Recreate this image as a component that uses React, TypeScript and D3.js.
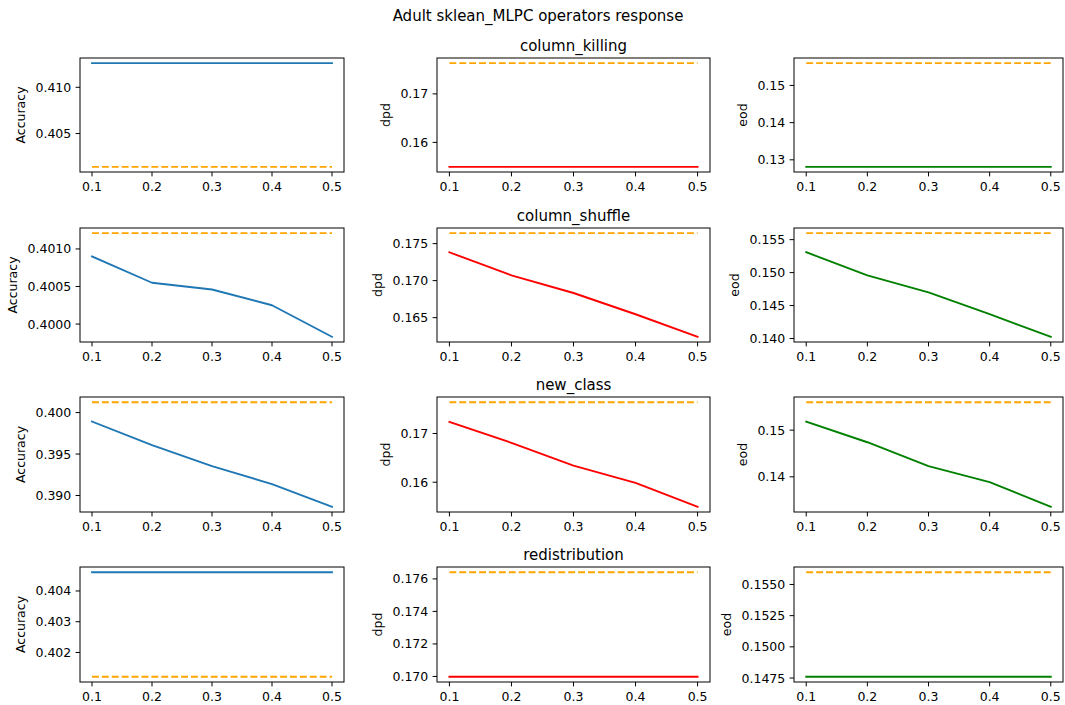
import * as d3 from "d3";

// x axis: corruption ratio
const xValues = [0.1, 0.2, 0.3, 0.4, 0.5];
const xTickLabels = ["0.1", "0.2", "0.3", "0.4", "0.5"];

const operators = ["column_killing", "column_shuffle", "new_class", "redistribution"];
const metrics = ["Accuracy", "dpd", "eod"];

// Accuracy per operator
const accuracyKilling = [0.41261, 0.41261, 0.41261, 0.41261, 0.41261];
const accuracyShuffle = [0.4009, 0.40055, 0.40046, 0.40025, 0.39983];
const accuracyNewClass = [0.39892, 0.39608, 0.39355, 0.39137, 0.38864];
const accuracyRedistribution = [0.40461, 0.40461, 0.40461, 0.40461, 0.40461];

// dpd per operator
const dpdKilling = [0.15496, 0.15496, 0.15496, 0.15496, 0.15496];
const dpdShuffle = [0.17383, 0.17071, 0.16833, 0.16546, 0.16241];
const dpdNewClass = [0.17237, 0.16808, 0.16339, 0.15985, 0.15496];
const dpdRedistribution = [0.16998, 0.16998, 0.16998, 0.16998, 0.16998];

// eod per operator
const eodKilling = [0.12812, 0.12812, 0.12812, 0.12812, 0.12812];
const eodShuffle = [0.15309, 0.14959, 0.14701, 0.14371, 0.14026];
const eodNewClass = [0.15181, 0.14741, 0.14231, 0.13886, 0.13359];
const eodRedistribution = [0.1476, 0.1476, 0.1476, 0.1476, 0.1476];

// original (unmodified) model values, one per operator row
const originalAccuracy = [0.4014, 0.40121, 0.40125, 0.40121];
const originalDpd = [0.17633, 0.17641, 0.17641, 0.17641];
const originalEod = [0.15598, 0.15598, 0.15598, 0.15598];

// y tick labels per operator row
const accuracyTicks = [
  ["0.405", "0.410"],
  ["0.4000", "0.4005", "0.4010"],
  ["0.390", "0.395", "0.400"],
  ["0.402", "0.403", "0.404"],
];
const dpdTicks = [
  ["0.16", "0.17"],
  ["0.165", "0.170", "0.175"],
  ["0.16", "0.17"],
  ["0.170", "0.172", "0.174", "0.176"],
];
const eodTicks = [
  ["0.13", "0.14", "0.15"],
  ["0.140", "0.145", "0.150", "0.155"],
  ["0.14", "0.15"],
  ["0.1475", "0.1500", "0.1525", "0.1550"],
];

const seriesByMetric = [
  [accuracyKilling, accuracyShuffle, accuracyNewClass, accuracyRedistribution],
  [dpdKilling, dpdShuffle, dpdNewClass, dpdRedistribution],
  [eodKilling, eodShuffle, eodNewClass, eodRedistribution],
];
const originalByMetric = [originalAccuracy, originalDpd, originalEod];
const ticksByMetric = [accuracyTicks, dpdTicks, eodTicks];
const colors = ["#1f77b4", "red", "green"];

// layout
const W = 1065;
const H = 705;
const colLeft = [80, 437, 794];
const colRight = [344, 710, 1063];
const rowTop = [58, 228, 397, 567];
const rowBottom = [172, 342, 512, 682];
const FONT = "DejaVu Sans, sans-serif";
const tickFs = 12.5;
const titleFs = 15;

function textWidth(s: string) {
  let w = 0;
  for (const c of s) w += c === "." ? 0.318 : 0.636;
  return w * tickFs;
}

function withMargin(ext: [number, number]): [number, number] {
  const pad = (ext[1] - ext[0]) * 0.05;
  return [ext[0] - pad, ext[1] + pad];
}

function Panel({ row, col }: { row: number; col: number }) {
  const left = colLeft[col];
  const right = colRight[col];
  const top = rowTop[row];
  const bottom = rowBottom[row];
  const values = seriesByMetric[col][row];
  const orig = xValues.map(() => originalByMetric[col][row]);
  const ticks = ticksByMetric[col][row];

  const x = d3
    .scaleLinear()
    .domain(withMargin(d3.extent(xValues) as [number, number]))
    .range([left, right]);
  const y = d3
    .scaleLinear()
    .domain(withMargin(d3.extent([...values, ...orig]) as [number, number]))
    .range([bottom, top]);

  const line = d3
    .line<number>()
    .x((_, i) => x(xValues[i]))
    .y((d) => y(d));

  const maxW = d3.max(ticks, textWidth) as number;
  const labelX = left - 8.75 - maxW - 10.5;

  return (
    <g>
      <path d={line(orig) || ""} fill="none" stroke="orange" strokeWidth={1.875} strokeDasharray="6.9 3" />
      <path d={line(values) || ""} fill="none" stroke={colors[col]} strokeWidth={1.875} strokeLinejoin="round" strokeLinecap="square" />
      <rect x={left} y={top} width={right - left} height={bottom - top} fill="none" stroke="#000" strokeWidth={1} />
      {xValues.map((v, i) => (
        <g key={"x" + i}>
          <line x1={x(v)} x2={x(v)} y1={bottom} y2={bottom + 4.4} stroke="#000" strokeWidth={1} />
          <text x={x(v)} y={bottom + 19} textAnchor="middle" fontSize={tickFs} fontFamily={FONT} fill="#000">
            {xTickLabels[i]}
          </text>
        </g>
      ))}
      {ticks.map((t) => (
        <g key={"y" + t}>
          <line x1={left - 4.4} x2={left} y1={y(+t)} y2={y(+t)} stroke="#000" strokeWidth={1} />
          <text x={left - 8.75} y={y(+t)} dy="0.36em" textAnchor="end" fontSize={tickFs} fontFamily={FONT} fill="#000">
            {t}
          </text>
        </g>
      ))}
      <text
        transform={`translate(${labelX},${(top + bottom) / 2}) rotate(-90)`}
        textAnchor="middle"
        fontSize={tickFs}
        fontFamily={FONT}
        fill="#000"
      >
        {metrics[col]}
      </text>
      {col === 1 && (
        <text x={(left + right) / 2} y={top - 7.5} textAnchor="middle" fontSize={titleFs} fontFamily={FONT} fill="#000">
          {operators[row]}
        </text>
      )}
    </g>
  );
}

export default function App() {
  return (
    <svg
      width={W}
      height={H}
      viewBox={`0 0 ${W} ${H}`}
      style={{ position: "absolute", left: 0, top: 0, background: "#fff" }}
    >
      <rect width={W} height={H} fill="#fff" />
      <text x={538} y={21} textAnchor="middle" fontSize={titleFs} fontFamily={FONT} fill="#000">
        Adult sklean_MLPC operators response
      </text>
      {operators.map((_, r) => metrics.map((__, c) => <Panel key={r + "-" + c} row={r} col={c} />))}
    </svg>
  );
}
